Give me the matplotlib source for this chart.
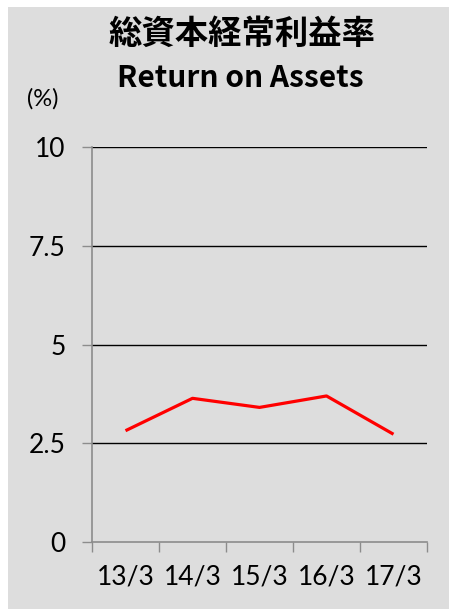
import matplotlib
matplotlib.use("Agg")
import matplotlib.pyplot as plt
from matplotlib.patches import Rectangle

categories = ["13/3", "14/3", "15/3", "16/3", "17/3"]
roa = [2.82, 3.64, 3.41, 3.70, 2.73]
yticks = [0, 2.5, 5, 7.5, 10]
ytick_labels = ["0", "2.5", "5", "7.5", "10"]
title_jp = "総資本経常利益率"
title_en = "Return on Assets"
unit_label = "(%)"

W, H = 449, 609
fig = plt.figure(figsize=(W / 100, H / 100), dpi=100)
fig.patch.set_facecolor("white")
bg = "#dddddd"
fig.patches.append(Rectangle((8 / W, 0), 1 - 8 / W, (H - 7) / H,
                             transform=fig.transFigure, facecolor=bg,
                             edgecolor="none", zorder=-10))

ax = fig.add_axes([92 / W, (H - 542) / H, 335 / W, (542 - 147.3) / H])
ax.set_zorder(5)
ax.set_facecolor(bg)

x = list(range(1, len(categories) + 1))
ax.plot(x, roa, color="#ff0000", lw=2.3, solid_capstyle="butt", zorder=3)

ax.set_xlim(0.5, len(categories) + 0.5)
ax.set_ylim(0, 10)
ax.set_yticks(yticks)
ax.set_yticklabels(ytick_labels)
for v in yticks[1:]:
    ax.axhline(v, color="black", lw=1.0, zorder=2)

ax.set_xticks([i + 0.5 for i in range(0, len(categories) + 1)])
ax.set_xticklabels([])
ax.set_xticks(x, minor=True)
ax.set_xticklabels(categories, minor=True)

for lab in ax.get_yticklabels() + ax.get_xticklabels(minor=True):
    lab.set_fontfamily("Lato")
    lab.set_fontsize(19)
    lab.set_color("black")

ax.tick_params(axis="y", which="major", direction="out", length=7, width=1,
               color="#8c8c8c", pad=12)
ax.tick_params(axis="x", which="major", direction="out", length=7, width=1,
               color="#8c8c8c")
ax.tick_params(axis="x", which="minor", length=0, pad=16)

for s in ["top", "right"]:
    ax.spines[s].set_visible(False)
for s in ["left", "bottom"]:
    ax.spines[s].set_color("#8c8c8c")
    ax.spines[s].set_linewidth(1.2)

fig.text(242 / W, 1 - 34 / H, title_jp, ha="center", va="center",
         family=["Noto Sans CJK JP", "DejaVu Sans"], weight="bold", fontsize=24)
fig.text(240 / W, 1 - 78 / H, title_en, ha="center", va="center",
         family=["Noto Sans CJK JP", "DejaVu Sans"], weight="bold", fontsize=21.5)
fig.text(43 / W, 1 - 99 / H, unit_label, ha="center", va="center",
         family="Lato", fontsize=17)

fig.savefig("out.png", dpi=100, facecolor=fig.get_facecolor())
